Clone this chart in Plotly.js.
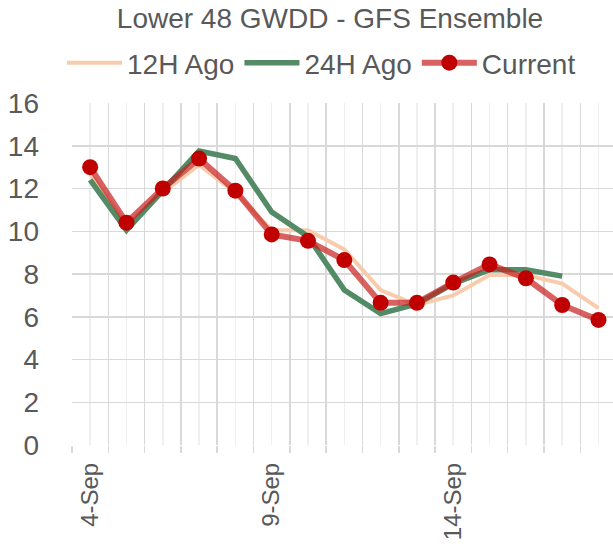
<!DOCTYPE html>
<html>
<head>
<meta charset="utf-8">
<script src="https://cdn.plot.ly/plotly-3.0.1.min.js"></script>
<style>html,body{margin:0;padding:0;background:#fff;}#chart{width:613px;height:550px;}</style>
</head>
<body>
<div id="chart"></div>
<script>
const dates = ['4-Sep','5-Sep','6-Sep','7-Sep','8-Sep','9-Sep','10-Sep','11-Sep','12-Sep','13-Sep','14-Sep','15-Sep','16-Sep','17-Sep','18-Sep'];
const labelDates = ['4-Sep','9-Sep','14-Sep'];
const ago12 = [12.7, 10.3, 11.8, 13.1, 11.8, 10.05, 10.05, 9.15, 7.25, 6.55, 7.0, 7.95, 7.95, 7.55, 6.4];
const ago24 = [12.4, 10.05, 11.9, 13.75, 13.4, 10.9, 9.75, 7.25, 6.15, 6.6, 7.55, 8.2, 8.2, 7.9, null];
const current = [13.0, 10.4, 12.0, 13.4, 11.9, 9.85, 9.55, 8.65, 6.65, 6.65, 7.6, 8.45, 7.8, 6.55, 5.85];
const yTicks = [0,2,4,6,8,10,12,14,16];

const idx = dates.map((d,i)=>i);
const boundaries = dates.map((d,i)=>i-0.5).concat([dates.length-0.5]);
const labelIdx = labelDates.map(d=>dates.indexOf(d));

const grey = '#595959';
const font = 'Liberation Sans, Arial, sans-serif';

const traces = [
  {x: idx, y: ago12, name: '12H Ago', mode: 'lines', line: {color: '#F8CBAD', width: 4}},
  {x: idx, y: ago24, name: '24H Ago', mode: 'lines', line: {color: '#548B67', width: 5.5}},
  {x: idx, y: current, name: 'Current', mode: 'lines+markers',
   line: {color: 'rgba(200,30,30,0.7)', width: 6},
   marker: {color: '#C00000', size: 16}},
  {x: idx, y: current, xaxis: 'x2', showlegend: false, hoverinfo: 'skip', mode: 'none'}
];

const layout = {
  width: 613, height: 550,
  margin: {l: 72, r: 0, t: 103, b: 105},
  paper_bgcolor: '#fff', plot_bgcolor: '#fff',
  font: {family: font, color: grey, size: 28},
  title: {text: 'Lower 48 GWDD - GFS Ensemble', font: {size: 28, color: grey, family: font},
          xref: 'container', x: 330/613, xanchor: 'center', yref: 'container', y: 1 - 18/550, yanchor: 'middle'},
  showlegend: true,
  legend: {orientation: 'h', xref: 'container', yref: 'container', x: 62/613, y: 1 - 63/550,
           xanchor: 'left', yanchor: 'middle', font: {size: 28, color: grey, family: font},
           itemwidth: 55, tracegroupgap: 0, bgcolor: 'rgba(0,0,0,0)'},
  xaxis: {
    type: 'linear', range: [-0.5, 14.4], tickmode: 'array', tickvals: boundaries,
    ticktext: boundaries.map(()=> ''), showgrid: true, gridcolor: '#d9d9d9', gridwidth: 1.5,
    ticks: 'outside', ticklen: 7, tickcolor: '#d9d9d9', tickwidth: 1.5,
    zeroline: false, showline: false, fixedrange: true,
    minor: {tickmode: 'array', tickvals: idx, showgrid: true, gridcolor: '#efefef', gridwidth: 1.5, ticks: ''}
  },
  xaxis2: {
    type: 'linear', overlaying: 'x', anchor: 'y', side: 'bottom', range: [-0.5, 14.4],
    tickmode: 'array', tickvals: labelIdx, ticktext: labelDates, tickangle: -90,
    showgrid: false, zeroline: false, showline: false, ticks: '', ticklabelstandoff: 12,
    tickfont: {size: 24, color: grey, family: font}
  },
  yaxis: {
    range: [0, 16], tickmode: 'array', tickvals: yTicks, ticktext: yTicks.map(String),
    showgrid: true, gridcolor: '#d9d9d9', gridwidth: 1.5, zeroline: false, showline: false,
    ticks: '', ticklabelstandoff: 32, tickfont: {size: 28, color: grey, family: font}
  }
};

Plotly.newPlot('chart', traces, layout, {displayModeBar: false, staticPlot: true});
</script>
</body>
</html>
